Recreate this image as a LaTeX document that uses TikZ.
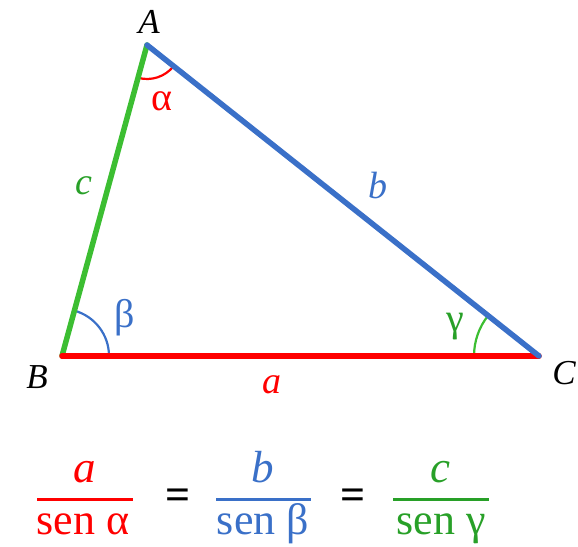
\documentclass[tikz,border=0pt]{standalone}
\usepackage{fontspec}
\setmainfont{Liberation Serif}
\definecolor{myred}{RGB}{255,0,0}
\definecolor{mygreen}{RGB}{60,190,50}
\definecolor{myblue}{RGB}{58,112,200}
\definecolor{txtgreen}{RGB}{40,160,40}
\begin{document}
\begin{tikzpicture}[x=1pt,y=1pt,
  side/.style={line width=5.5pt,line cap=round},
  ang/.style={line width=2.2pt},
  vlbl/.style={font=\fontsize{35}{37}\selectfont\itshape,inner sep=0pt},
  slbl/.style={font=\fontsize{38}{40}\selectfont\itshape,inner sep=0pt},
  glbl/.style={font=\fontsize{40}{42}\selectfont,inner sep=0pt},
  num/.style={font=\fontsize{45}{47}\selectfont\itshape,inner sep=0pt,anchor=base},
  den/.style={font=\fontsize{44}{46}\selectfont,inner sep=0pt,anchor=base},
  eqs/.style={font=\fontsize{44}{46}\selectfont\bfseries,inner sep=0pt},
  frule/.style={line width=3pt}]
\useasboundingbox (0,0) rectangle (578,546);
\coordinate (A) at (147,501);
\coordinate (B) at (62,190);
\coordinate (C) at (539,190);
% angle arcs
\draw[myred,ang] ([shift={(254.7:34)}]A) arc[start angle=254.7,end angle=321.6,radius=34];
\draw[myblue,ang] ([shift={(0:47)}]B) arc[start angle=0,end angle=74.7,radius=47];
\draw[mygreen,ang] ([shift={(141.6:65)}]C) arc[start angle=141.6,end angle=180,radius=65];
% sides
\draw[mygreen,side] (B) -- (A);
\draw[myred,side] (B) -- (C);
\draw[myblue,side] (A) -- (C);
% vertex labels
\node[vlbl] (lA) at (149,524) {A};
\node[vlbl] (lB) at (37,169) {B};
\node[vlbl] (lC) at (564,173) {C};
% angle labels
\node[glbl,myred] (lal) at (162,445) {α};
\node[glbl,myblue] (lbe) at (125,228) {β};
\node[glbl,txtgreen] (lga) at (455,219) {γ};
% side labels
\node[slbl,txtgreen] (lc) at (84,360) {c};
\node[slbl,myblue] (lb) at (378,360) {b};
\node[slbl,myred] (la) at (272,161) {a};
% formula
\node[num,myred] (na) at (85,63) {a};
\draw[myred,frule] (37,46) -- (133,46);
\node[den,myred] (da) at (83,12) {sen α};
\node[eqs] (eq1) at (178,47) {=};
\node[num,myblue] (nb) at (263,63) {b};
\draw[myblue,frule] (216,46) -- (311,46);
\node[den,myblue] (db) at (263,12) {sen β};
\node[eqs] (eq2) at (353,47) {=};
\node[num,txtgreen] (nc) at (440,63) {c};
\draw[txtgreen,frule] (393,46) -- (489,46);
\node[den,txtgreen] (dc) at (441,12) {sen γ};
\end{tikzpicture}
\end{document}
